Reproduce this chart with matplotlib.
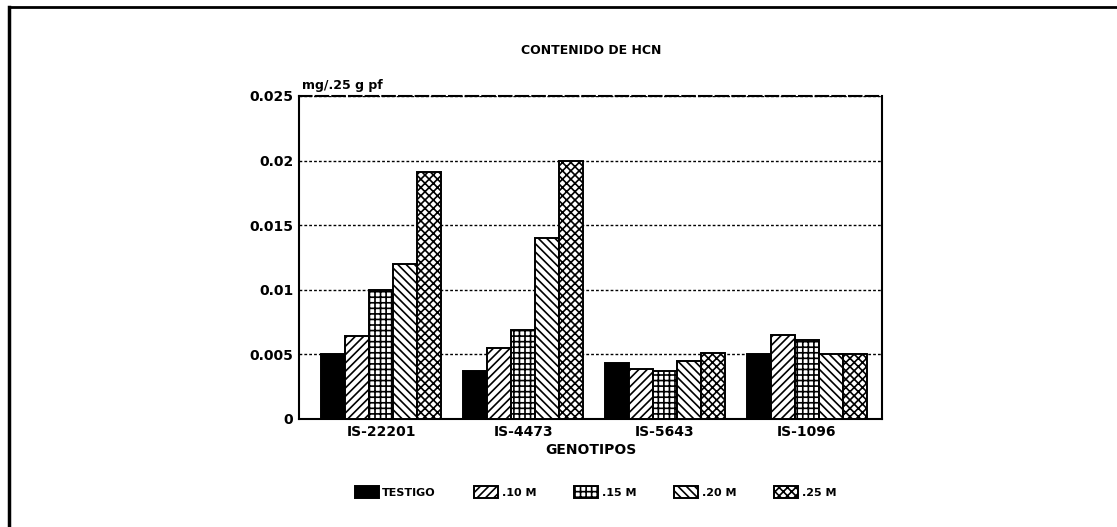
import numpy as np
import matplotlib.pyplot as plt
from matplotlib.lines import Line2D

# datos
genotipos = ['IS-22201', 'IS-4473', 'IS-5643', 'IS-1096']
tratamientos = ['TESTIGO', '.10 M', '.15 M', '.20 M', '.25 M']
testigo = [0.0050, 0.0037, 0.0043, 0.0050]
m10 = [0.0064, 0.0055, 0.0039, 0.0065]
m15 = [0.0100, 0.0069, 0.0037, 0.0061]
m20 = [0.0120, 0.0140, 0.0045, 0.0050]
m25 = [0.0191, 0.0200, 0.0051, 0.0050]
yticks = [0, 0.005, 0.01, 0.015, 0.02, 0.025]
ytick_labels = ['0', '0.005', '0.01', '0.015', '0.02', '0.025']

series = [testigo, m10, m15, m20, m25]
hatches = ['', '////', '+++', '\\\\\\\\', 'xxxx']
colores = ['black', 'white', 'white', 'white', 'white']

plt.rcParams['hatch.linewidth'] = 1.2
plt.rcParams['font.family'] = 'DejaVu Sans'

fig = plt.figure(figsize=(11.17, 5.27), dpi=100)
ax = fig.add_axes([0.2677, 0.205, 0.522, 0.613])

x = np.arange(len(genotipos))
ancho = 0.169
for i, (vals, h, c) in enumerate(zip(series, hatches, colores)):
    ax.bar(x + (i - 2) * ancho, vals, ancho, color=c, hatch=h,
           edgecolor='black', linewidth=1.4, label=tratamientos[i], zorder=3)

ax.set_xlim(-0.58, 3.53)
ax.set_ylim(0, 0.025)
ax.set_yticks(yticks)
ax.set_yticklabels(ytick_labels, fontsize=10, fontweight='bold')
ax.set_xticks(x)
ax.set_xticklabels(genotipos, fontsize=10, fontweight='bold')
ax.tick_params(length=0, pad=4)
ax.yaxis.grid(True, linestyle=(0, (2, 1.5)), color='black', linewidth=1.0, zorder=0)
ax.set_axisbelow(True)
for s in ['left', 'right', 'bottom']:
    ax.spines[s].set_linewidth(1.5)
ax.spines['top'].set_linestyle((0, (6, 2)))
ax.spines['top'].set_linewidth(1.5)

ax.set_xlabel('GENOTIPOS', fontsize=10, fontweight='bold', labelpad=3)
ax.text(0.005, 1.012, 'mg/.25 g pf', transform=ax.transAxes, fontsize=9,
        fontweight='bold', ha='left', va='bottom')
fig.text(0.529, 0.905, 'CONTENIDO DE HCN', fontsize=9, fontweight='bold',
         ha='center', va='center')

fig.legend(loc='center', bbox_to_anchor=(0.533, 0.066), ncol=5, frameon=False,
           handlelength=2.2, handleheight=1.3, columnspacing=3.4,
           handletextpad=0.3, prop={'weight': 'bold', 'size': 8})

# marco exterior (solo arriba e izquierda)
fig.add_artist(Line2D([0.008, 1.0], [0.987, 0.987], color='black', linewidth=2,
                      transform=fig.transFigure))
fig.add_artist(Line2D([0.008, 0.008], [0.0, 0.987], color='black', linewidth=2.5,
                      transform=fig.transFigure))

fig.savefig('out.png', dpi=100)
